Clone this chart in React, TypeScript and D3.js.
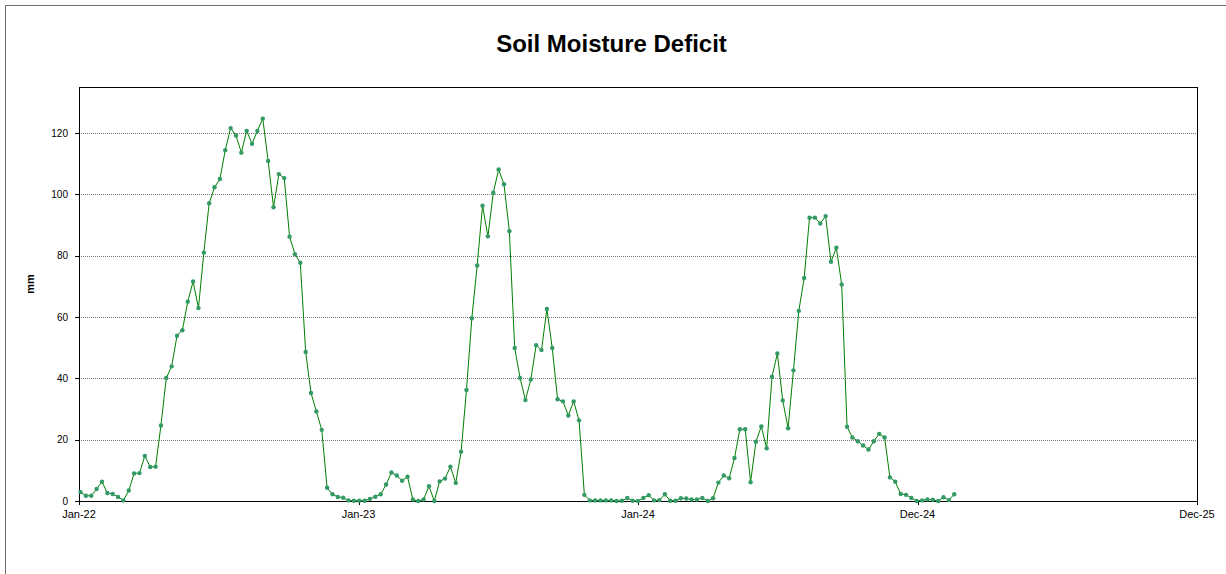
import React from "react";
import * as d3 from "d3";

const title = "Soil Moisture Deficit";
const yAxisLabel = "mm";
const startDate = new Date(2022, 0, 3);
const values: number[] = [
  2.9, 1.7, 1.7, 3.9, 6.3, 2.6, 2.3, 1.3, 0.2, 3.4,
  9.0, 9.1, 14.7, 11.1, 11.2, 24.6, 40.1, 43.9, 53.9, 55.7,
  65.0, 71.6, 62.9, 81.0, 97.1, 102.3, 105.0, 114.4, 121.6, 119.2,
  113.6, 120.7, 116.5, 120.7, 124.7, 110.9, 95.8, 106.6, 105.3, 86.2,
  80.5, 77.7, 48.6, 35.2, 29.2, 23.2, 4.3, 2.2, 1.3, 1.1,
  0.2, 0.1, 0.1, 0.1, 0.7, 1.4, 2.2, 5.4, 9.3, 8.3,
  6.6, 7.9, 0.5, 0, 0.5, 4.8, 0, 6.4, 7.3, 11.2,
  5.9, 16.1, 36.2, 59.6, 76.8, 96.3, 86.3, 100.5, 108.1, 103.3,
  88.0, 49.9, 40.1, 32.9, 39.6, 50.8, 49.2, 62.6, 49.9, 33.2,
  32.5, 27.9, 32.5, 26.3, 2.0, 0.2, 0.2, 0.2, 0.2, 0.2,
  0, 0.1, 1.0, 0.1, 0, 1.0, 1.9, 0.2, 0.3, 2.2,
  0.1, 0.1, 0.9, 0.8, 0.5, 0.5, 1.0, 0, 0.9, 6.0,
  8.3, 7.4, 14.0, 23.4, 23.4, 6.1, 19.3, 24.3, 17.2, 40.5,
  48.1, 32.8, 23.7, 42.6, 62.0, 72.7, 92.4, 92.4, 90.5, 92.9,
  78.0, 82.6, 70.6, 24.2, 20.7, 19.5, 18.1, 16.8, 19.5, 21.9,
  20.7, 7.7, 6.3, 2.3, 2.0, 1.0, 0, 0.2, 0.5, 0.4,
  0, 1.2, 0.3, 2.2,
];
const xTickDates = [
  new Date(2022, 0, 1),
  new Date(2023, 0, 1),
  new Date(2024, 0, 1),
  new Date(2024, 11, 31),
  new Date(2025, 11, 31),
];
const xTickLabels = ["Jan-22", "Jan-23", "Jan-24", "Dec-24", "Dec-25"];
const yTicks = [0, 20, 40, 60, 80, 100, 120];

const W = 1226;
const H = 574;
const plot = { left: 79, right: 1197, top: 87, bottom: 501 };

export default function App() {
  const x = d3
    .scaleTime()
    .domain([new Date(2022, 0, 1), new Date(2025, 11, 31)])
    .range([plot.left, plot.right]);
  const y = d3.scaleLinear().domain([0, 135]).range([plot.bottom, plot.top]);

  const data = values.map((v, i) => ({
    date: d3.timeDay.offset(startDate, i * 7),
    v,
  }));
  const line = d3
    .line<{ date: Date; v: number }>()
    .x((d) => x(d.date))
    .y((d) => y(d.v));

  const font = "Arial, 'Liberation Sans', Helvetica, sans-serif";

  return (
    <svg
      width={W}
      height={H}
      style={{ position: "absolute", left: 0, top: 0, background: "#fff" }}
      fontFamily={font}
    >
      <rect x={0} y={0} width={W} height={H} fill="#fff" />
      <rect
        x={5.5}
        y={5.5}
        width={W + 20}
        height={H + 20}
        fill="none"
        stroke="#6e6e6e"
        strokeWidth={1}
      />
      <text
        x={611.5}
        y={52}
        textAnchor="middle"
        fontSize={24}
        fontWeight="bold"
        fill="#000"
      >
        {title}
      </text>
      {/* gridlines */}
      {yTicks
        .filter((t) => t > 0)
        .map((t) => (
          <line
            key={"g" + t}
            x1={plot.left}
            x2={plot.right}
            y1={Math.round(y(t)) + 0.5}
            y2={Math.round(y(t)) + 0.5}
            stroke="#7a7a7a"
            strokeWidth={1}
            strokeDasharray="1 1"
          />
        ))}
      {/* plot border */}
      <rect
        x={plot.left + 0.5}
        y={plot.top + 0.5}
        width={plot.right - plot.left}
        height={plot.bottom - plot.top}
        fill="none"
        stroke="#000"
        strokeWidth={1}
      />
      {/* y ticks & labels */}
      {yTicks.map((t) => (
        <g key={"y" + t}>
          <line
            x1={plot.left - 4}
            x2={plot.left}
            y1={Math.round(y(t)) + 0.5}
            y2={Math.round(y(t)) + 0.5}
            stroke="#000"
          />
          <text
            x={68}
            y={y(t)}
            dy="0.35em"
            textAnchor="end"
            fontSize={10}
            fill="#000"
          >
            {t}
          </text>
        </g>
      ))}
      {/* x ticks & labels */}
      {xTickDates.map((d, i) => (
        <g key={"x" + i}>
          <line
            x1={Math.round(x(d)) + 0.5}
            x2={Math.round(x(d)) + 0.5}
            y1={plot.bottom}
            y2={plot.bottom + 4}
            stroke="#000"
          />
          <text
            x={x(d)}
            y={518}
            textAnchor="middle"
            fontSize={11}
            fill="#000"
          >
            {xTickLabels[i]}
          </text>
        </g>
      ))}
      <text
        transform={`translate(34, 284) rotate(-90)`}
        textAnchor="middle"
        fontSize={11}
        fontWeight="bold"
        fill="#000"
      >
        {yAxisLabel}
      </text>
      {/* series */}
      <path d={line(data) || ""} fill="none" stroke="#008000" strokeWidth={1} />
      {data.map((d, i) => (
        <circle key={i} cx={x(d.date)} cy={y(d.v)} r={2.2} fill="#339966" />
      ))}
    </svg>
  );
}
